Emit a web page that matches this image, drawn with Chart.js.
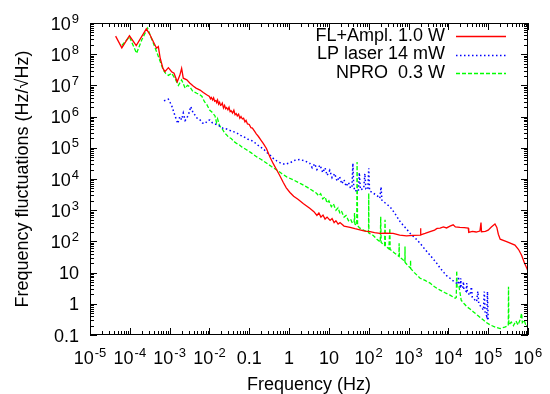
<!DOCTYPE html>
<html>
<head>
<meta charset="utf-8">
<script src="https://cdn.jsdelivr.net/npm/chart.js@4"></script>
<style>
  body { margin: 0; background: #fff; }
  canvas { display: block; }
</style>
</head>
<body>
<canvas id="c" width="550" height="394"></canvas>
<script>
// series values, [frequency Hz, amplitude Hz/sqrt(Hz)]
var redPts = [[4.4e-5,3.8e8],[6.3e-5,1.6e8],[9.8e-5,3.9e8],[1.45e-4,1.9e8],[2.6e-4,6.5e8],[3.2e-4,4.2e8],[3.9e-4,2.5e8],[4.7e-4,1.55e8],[5.2e-4,1.75e8],[5.8e-4,7.4e7],[6.8e-4,3.5e7],[7.6e-4,2.75e7],[9.3e-4,3.7e7],[1.12e-3,2.75e7],[1.29e-3,2.45e7],[1.55e-3,1.3e7],[1.8e-3,2.1e7],[2.0e-3,3.5e7],[2.2e-3,1.7e7],[2.7e-3,1.5e7],[3.2e-3,1.2e7],[3.9e-3,9.5e6],[4.6e-3,8.2e6],[5.8e-3,7.1e6],[7.0e-3,5.9e6],[8.5e-3,5.0e6],[1.0e-2,4.4e6],[1.06e-2,3.7e6],[1.12e-2,4.1e6],[1.2e-2,3.4e6],[1.27e-2,4.0e6],[1.35e-2,3.1e6],[1.45e-2,3.3e6],[1.52e-2,2.8e6],[1.6e-2,3.4e6],[1.7e-2,2.5e6],[1.8e-2,2.9e6],[1.9e-2,2.3e6],[2.0e-2,2.4e6],[2.1e-2,2.7e6],[2.25e-2,1.9e6],[2.4e-2,2.3e6],[2.55e-2,1.8e6],[2.7e-2,1.95e6],[2.9e-2,1.65e6],[3.1e-2,2.0e6],[3.3e-2,1.45e6],[3.5e-2,1.55e6],[3.8e-2,1.3e6],[4.1e-2,1.6e6],[4.4e-2,1.15e6],[4.7e-2,1.25e6],[5.0e-2,1.05e6],[5.4e-2,1.2e6],[5.8e-2,8.8e5],[6.2e-2,1.0e6],[6.7e-2,8.4e5],[7.2e-2,8.9e5],[7.8e-2,6.8e5],[8.3e-2,7.6e5],[9.0e-2,5.8e5],[0.1,5.6e5],[0.11,4.4e5],[0.12,4.3e5],[0.138,3.3e5],[0.15,2.8e5],[0.17,2.3e5],[0.2,1.7e5],[0.224,1.38e5],[0.27,9.5e4],[0.33,5.1e4],[0.4,3.1e4],[0.49,1.95e4],[0.6,1.2e4],[0.71,7.9e3],[0.85,5.2e3],[1.05,3.7e3],[1.3,2.8e3],[1.7,2.2e3],[2.3,1.6e3],[3.3,1.15e3],[4.2,900],[5.0,680],[5.6,820],[6.3,600],[7.1,700],[8.0,520],[9.0,600],[10.7,470],[12,540],[13.5,400],[15,460],[17,360],[19,400],[24,310],[34,280],[45,255],[60,235],[80,215],[107,205],[140,190],[190,180],[260,185],[410,180],[600,160],[890,150],[1300,155],[1950,160],[2000,265],[2040,162],[2600,180],[3470,205],[4500,230],[5200,260],[6200,265],[7500,290],[9000,270],[1.1e4,310],[1.32e4,340],[1.5e4,290],[1.95e4,280],[2.5e4,275],[3.16e4,265],[3.25e4,195],[4.0e4,210],[5.0e4,200],[6.2e4,215],[6.6e4,400],[6.8e4,205],[8.5e4,210],[1.0e5,230],[1.2e5,290],[1.48e5,360],[1.65e5,280],[1.8e5,170],[2.0e5,118],[2.9e5,98],[4.7e5,76],[5.8e5,55],[6.9e5,36],[8.2e5,20],[9.3e5,14],[1.0e6,11]];

var bluePts = [[7.2e-4,3.2e6],[9.3e-4,3.6e6],[1.12e-3,2.3e6],[1.35e-3,1.1e6],[1.6e-3,6.0e5],[1.8e-3,1.0e6],[2.0e-3,7.9e5],[2.2e-3,1.3e6],[2.45e-3,7.5e5],[2.7e-3,8.9e5],[3.0e-3,1.2e6],[3.4e-3,2.1e6],[3.9e-3,1.3e6],[4.4e-3,1.1e6],[5.0e-3,8.5e5],[5.8e-3,7.8e5],[6.7e-3,6.2e5],[7.8e-3,6.0e5],[9.0e-3,7.5e5],[1.02e-2,7.8e5],[1.2e-2,6.2e5],[1.38e-2,5.8e5],[1.6e-2,5.4e5],[1.8e-2,5.0e5],[2.2e-2,4.2e5],[2.7e-2,4.0e5],[3.3e-2,3.6e5],[4.0e-2,3.3e5],[5.0e-2,2.9e5],[6.0e-2,2.5e5],[7.1e-2,2.3e5],[9.0e-2,1.9e5],[0.11,1.75e5],[0.126,1.6e5],[0.16,1.25e5],[0.19,1.05e5],[0.224,9.5e4],[0.27,7.2e4],[0.33,5.9e4],[0.4,4.6e4],[0.49,3.8e4],[0.6,3.3e4],[0.79,2.95e4],[1.05,3.3e4],[1.41,4.0e4],[1.86,4.2e4],[2.5,3.8e4],[3.3,3.2e4],[3.8,2.3e4],[4.4,3.1e4],[5.0,2.0e4],[6.0,2.8e4],[7.0,1.6e4],[8.0,2.3e4],[9.0,1.3e4],[10.5,1.9e4],[12,1.1e4],[14,1.5e4],[16,8.5e3],[18.5,1.2e4],[21,7.0e3],[24,9.5e3],[27,5.8e3],[31,7.8e3],[35,5.0e3],[38,6.0e3],[40,3.2e4],[42,5.6e3],[46,4.0e3],[50,4.5e3],[55,4.2e3],[58,1.6e4],[62,4.5e3],[75,5.0e3],[80,1.5e4],[85,4.8e3],[95,4.6e3],[100,2.2e4],[105,4.2e3],[130,3.5e3],[160,3.0e3],[190,2.4e3],[204,5.6e3],[214,2.1e3],[260,1.7e3],[340,1.3e3],[450,800],[620,420],[890,250],[1100,180],[1500,125],[1950,87],[2600,55],[3470,36],[4300,26],[5100,20],[6200,14],[7400,10.7],[9000,8.0],[1.1e4,6.6],[1.3e4,5.5],[1.6e4,4.6],[1.75e4,4.2],[1.8e4,7.4],[1.85e4,4.0],[2.0e4,3.6],[2.05e4,6.6],[2.1e4,3.4],[2.3e4,3.2],[2.4e4,5.1],[2.45e4,2.9],[2.8e4,2.5],[2.9e4,4.6],[3.0e4,2.3],[3.5e4,1.9],[3.8e4,3.5],[4.0e4,1.6],[5.1e4,1.17],[5.5e4,2.5],[5.8e4,1.0],[7.6e4,0.63],[8.0e4,2.45],[8.4e4,0.55],[9.2e4,0.4],[9.6e4,2.45],[1.0e5,0.28]];

var greenPts = [[6.3e-5,1.9e8],[9.8e-5,3.6e8],[1.48e-4,1.07e8],[2.0e-4,2.9e8],[2.8e-4,6.8e8],[3.5e-4,3.2e8],[4.7e-4,1.2e8],[5.8e-4,5.8e7],[6.9e-4,3.1e7],[8.0e-4,2.4e7],[9.3e-4,2.1e7],[1.12e-3,2.45e7],[1.35e-3,1.7e7],[1.66e-3,1.0e7],[2.0e-3,1.5e7],[2.45e-3,8.1e6],[2.8e-3,1.0e7],[3.2e-3,9.1e6],[3.8e-3,6.5e6],[4.8e-3,5.6e6],[5.6e-3,5.2e6],[6.5e-3,4.4e6],[7.5e-3,3.0e6],[8.5e-3,2.5e6],[9.3e-3,2.0e6],[1.02e-2,1.6e6],[1.15e-2,1.4e6],[1.38e-2,1.05e6],[1.5e-2,6.5e5],[1.6e-2,8.5e5],[1.8e-2,5.0e5],[2.1e-2,4.0e5],[2.4e-2,3.0e5],[2.7e-2,2.6e5],[3.0e-2,2.2e5],[3.5e-2,2.0e5],[4.1e-2,1.6e5],[4.8e-2,1.38e5],[5.6e-2,1.25e5],[6.6e-2,1.05e5],[7.6e-2,9.5e4],[8.7e-2,8.5e4],[0.11,7.0e4],[0.155,5.1e4],[0.2,4.2e4],[0.275,3.2e4],[0.36,2.5e4],[0.49,1.95e4],[0.65,1.5e4],[0.87,1.17e4],[1.29,9.3e3],[2.0,7.0e3],[2.75,5.6e3],[3.6,4.5e3],[4.9,3.5e3],[5.5,2.9e3],[6.2,3.4e3],[7.0,2.3e3],[8.0,2.7e3],[9.0,1.7e3],[10,2.0e3],[11.5,1.3e3],[13,1.6e3],[15,1.0e3],[17,1.2e3],[19,780],[21,900],[24,600],[27,680],[31,460],[35,520],[39,380],[43,420],[44,810],[45,360],[48,340],[50,330],[51,3.5e4],[52.5,316],[60,265],[70,240],[80,220],[95,200],[99,190],[100,3.5e3],[101,185],[130,155],[160,118],[195,95],[200,620],[205,92],[250,75],[257,490],[262,72],[320,58],[339,265],[345,55],[450,42],[575,33],[580,87],[590,32],[700,27],[810,22],[815,68],[820,21],[1000,16],[1120,14],[1125,25],[1130,13.5],[1400,10],[1950,6.6],[2600,5.6],[3470,4.6],[4500,3.5],[6200,2.75],[8000,2.3],[1.1e4,1.9],[1.48e4,1.5],[1.58e4,1.6],[1.62e4,11.5],[1.66e4,3.2],[1.86e4,3.5],[2.1e4,1.3],[2.5e4,1.0],[2.9e4,0.81],[3.5e4,0.68],[4.2e4,0.56],[5.5e4,0.42],[7.6e4,0.30],[9.0e4,0.25],[1.12e5,0.21],[1.5e5,0.18],[2.0e5,0.16],[2.6e5,0.18],[3.2e5,0.2],[3.24e5,3.5],[3.3e5,0.21],[3.8e5,0.26],[4.3e5,0.2],[5.0e5,0.28],[5.6e5,0.21],[6.4e5,0.32],[6.9e5,0.5],[7.2e5,0.25],[8.0e5,0.3],[9.0e5,0.19],[1.0e6,0.21]];

var seriesNames = ['FL+Ampl. 1.0 W', 'LP laser 14 mW', 'NPRO  0.3 W'];

// tick labels: [mantissa, exponent]
var xTickVals = [1e-5, 1e-4, 1e-3, 1e-2, 0.1, 1, 10, 1e2, 1e3, 1e4, 1e5, 1e6];
var xTickText = [['10','-5'],['10','-4'],['10','-3'],['10','-2'],['0.1',''],['1',''],['10',''],['10','2'],['10','3'],['10','4'],['10','5'],['10','6']];
var yTickVals = [0.1, 1, 10, 1e2, 1e3, 1e4, 1e5, 1e6, 1e7, 1e8, 1e9];
var yTickText = [['0.1',''],['1',''],['10',''],['10','2'],['10','3'],['10','4'],['10','5'],['10','6'],['10','7'],['10','8'],['10','9']];

var FONT = '"Liberation Sans", Arial, sans-serif';

function toXY(pts) {
  return pts.map(function (p) { return { x: p[0], y: p[1] }; });
}

function labelWidth(ctx, t) {
  ctx.font = '18px ' + FONT;
  var w = ctx.measureText(t[0]).width;
  if (t[1]) { ctx.font = '13px ' + FONT; w += ctx.measureText(t[1]).width + 1; }
  return w;
}

function drawLabel(ctx, t, x, base) {
  ctx.textAlign = 'left';
  ctx.textBaseline = 'alphabetic';
  ctx.font = '18px ' + FONT;
  ctx.fillText(t[0], x, base);
  if (t[1]) {
    var w = ctx.measureText(t[0]).width;
    ctx.font = '13px ' + FONT;
    ctx.fillText(t[1], x + w + 1, base - 7);
  }
}

var gnuFrame = {
  id: 'gnuFrame',
  afterDatasetsDraw: function (chart) {
    var ctx = chart.ctx, a = chart.chartArea;
    var xs = chart.scales.x, ys = chart.scales.y;
    ctx.save();
    ctx.strokeStyle = '#000';
    ctx.fillStyle = '#000';
    ctx.lineWidth = 1;
    ctx.strokeRect(a.left + 0.5, a.top + 0.5, a.right - a.left - 1, a.bottom - a.top - 1);

    ctx.beginPath();
    var d, k, v, p, len;
    for (d = -5; d <= 6; d++) {
      for (k = 1; k <= 9; k++) {
        v = k * Math.pow(10, d);
        if (v > 1e6 * 1.0001) break;
        p = Math.round(xs.getPixelForValue(v)) + 0.5;
        len = k === 1 ? 7 : 4;
        ctx.moveTo(p, a.bottom); ctx.lineTo(p, a.bottom - len);
        ctx.moveTo(p, a.top); ctx.lineTo(p, a.top + len);
      }
    }
    for (d = -1; d <= 9; d++) {
      for (k = 1; k <= 9; k++) {
        v = k * Math.pow(10, d);
        if (v > 1e9 * 1.0001) break;
        p = Math.round(ys.getPixelForValue(v)) + 0.5;
        len = k === 1 ? 7 : 4;
        ctx.moveTo(a.left, p); ctx.lineTo(a.left + len, p);
        ctx.moveTo(a.right, p); ctx.lineTo(a.right - len, p);
      }
    }
    ctx.stroke();

    // tick labels
    var i, w;
    for (i = 0; i < xTickVals.length; i++) {
      p = xs.getPixelForValue(xTickVals[i]);
      w = labelWidth(ctx, xTickText[i]);
      drawLabel(ctx, xTickText[i], p - w / 2, 364);
    }
    for (i = 0; i < yTickVals.length; i++) {
      p = ys.getPixelForValue(yTickVals[i]);
      w = labelWidth(ctx, yTickText[i]);
      drawLabel(ctx, yTickText[i], 79 - w, p + 6.5);
    }

    // axis titles
    ctx.font = '18px ' + FONT;
    ctx.textAlign = 'center';
    ctx.textBaseline = 'middle';
    ctx.fillText('Frequency (Hz)', (a.left + a.right) / 2, 385);
    ctx.save();
    ctx.translate(23, (a.top + a.bottom) / 2);
    ctx.rotate(-Math.PI / 2);
    ctx.fillText('Frequency fluctuations (Hz/\u221AHz)', 0, 0);
    ctx.restore();

    // key, gnuplot style: text right aligned, sample line to the right
    var rows = [36, 54.5, 73];
    chart.data.datasets.forEach(function (ds, j) {
      ctx.font = '18px ' + FONT;
      ctx.textAlign = 'right';
      ctx.textBaseline = 'middle';
      ctx.fillStyle = '#000';
      ctx.fillText(ds.label, 445, rows[j]);
      ctx.beginPath();
      ctx.strokeStyle = ds.borderColor;
      ctx.lineWidth = ds.borderWidth;
      ctx.setLineDash(ds.borderDash || []);
      ctx.moveTo(456, Math.round(rows[j]) + 0.5);
      ctx.lineTo(506, Math.round(rows[j]) + 0.5);
      ctx.stroke();
      ctx.setLineDash([]);
    });
    ctx.restore();
  }
};

new Chart(document.getElementById('c'), {
  type: 'line',
  data: {
    datasets: [
      { label: seriesNames[0], data: toXY(redPts), borderColor: '#ff0000', borderWidth: 1.3, borderDash: [] },
      { label: seriesNames[1], data: toXY(bluePts), borderColor: '#0000ff', borderWidth: 1.5, borderDash: [1.5, 2.5] },
      { label: seriesNames[2], data: toXY(greenPts), borderColor: '#00ff00', borderWidth: 1.3, borderDash: [4, 2] }
    ]
  },
  options: {
    responsive: false,
    animation: false,
    devicePixelRatio: 1,
    layout: { padding: { left: 90, right: 22, top: 23, bottom: 59 } },
    elements: { point: { radius: 0 }, line: { tension: 0, fill: false } },
    plugins: { legend: { display: false }, tooltip: { enabled: false } },
    scales: {
      x: { type: 'logarithmic', min: 1e-5, max: 1e6, display: false },
      y: { type: 'logarithmic', min: 0.1, max: 1e9, display: false }
    }
  },
  plugins: [gnuFrame]
});
</script>
</body>
</html>
